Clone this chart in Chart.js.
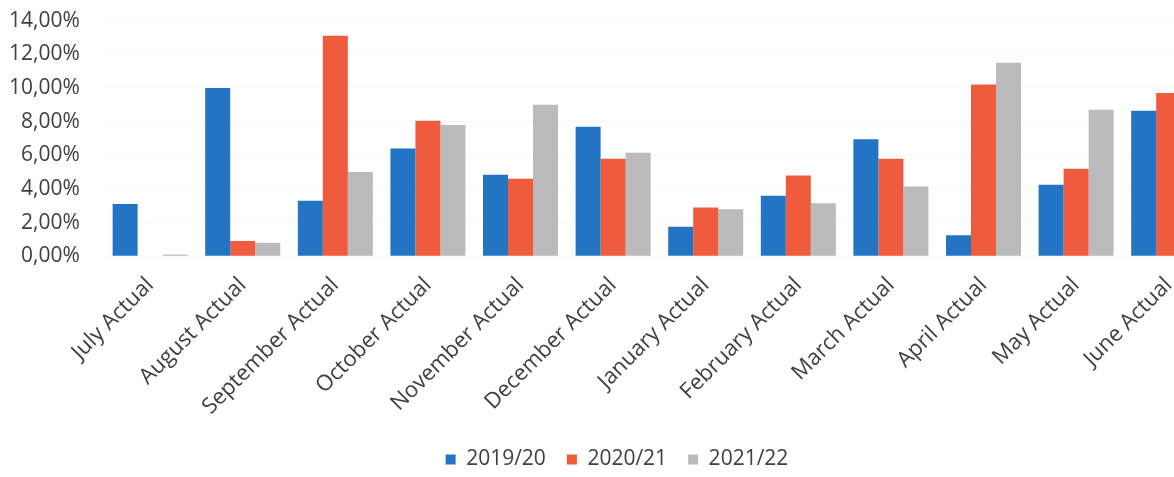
<!DOCTYPE html>
<html>
<head>
<meta charset="utf-8">
<script src="https://cdn.jsdelivr.net/npm/chart.js@4"></script>
<style>
html,body{margin:0;padding:0;background:#fff;overflow:hidden;width:1174px;height:477px;}
#wrap{width:1215px;height:477px;}
</style>
</head>
<body>
<div id="wrap"><canvas id="c" width="1215" height="477"></canvas></div>
<script>
const categories = ["July Actual","August Actual","September Actual","October Actual","November Actual","December Actual","January Actual","February Actual","March Actual","April Actual","May Actual","June Actual"];
const series2019 = [3.1, 10.0, 3.3, 6.4, 4.85, 7.7, 1.75, 3.6, 6.95, 1.25, 4.25, 8.65];
const series2020 = [0, 0.9, 13.1, 8.05, 4.6, 5.8, 2.9, 4.8, 5.8, 10.2, 5.2, 9.7];
const series2021 = [0.1, 0.8, 5.0, 7.8, 9.0, 6.15, 2.8, 3.15, 4.15, 11.5, 8.7, null];
const seriesNames = ["2019/20","2020/21","2021/22"];
const yTicks = [0,2,4,6,8,10,12,14];

const font = "'Open Sans', sans-serif";
const legendShift = {
  id: 'legendShift',
  afterLayout(chart) {
    if (chart.legend) { chart.legend.left += 9; chart.legend.right += 9; }
  }
};
new Chart(document.getElementById('c'), {
  type: 'bar',
  data: {
    labels: categories,
    datasets: [
      {label: seriesNames[0], data: series2019, backgroundColor: '#2474C4'},
      {label: seriesNames[1], data: series2020, backgroundColor: '#EE5B3D'},
      {label: seriesNames[2], data: series2021, backgroundColor: '#BBBBBB'}
    ]
  },
  plugins: [legendShift],
  options: {
    responsive: false,
    animation: false,
    layout: {padding: {top: -19, left: 1, right: 0, bottom: -3}},
    datasets: {bar: {categoryPercentage: 0.81, barPercentage: 1.0}},
    plugins: {
      legend: {
        position: 'bottom',
        labels: {boxWidth: 10, boxHeight: 10, padding: 21, color: '#404040', font: {family: font, size: 21}}
      },
      tooltip: {enabled: false}
    },
    scales: {
      x: {
        grid: {display: false},
        border: {display: false},
        ticks: {maxRotation: 45, minRotation: 45, color: '#404040', font: {family: font, size: 22}, padding: 8}
      },
      y: {
        min: 0, max: 14,
        afterBuildTicks: (axis) => { axis.ticks = yTicks.map(v => ({value: v})); },
        grid: {color: 'rgba(0,0,0,0.03)', drawTicks: true, tickLength: 16, tickColor: 'rgba(0,0,0,0)'},
        border: {display: false},
        ticks: {
          color: '#404040', padding: 8,
          font: {family: font, size: 21},
          callback: (v) => v.toFixed(2).replace('.', ',') + '%'
        }
      }
    }
  }
});
</script>
</body>
</html>
